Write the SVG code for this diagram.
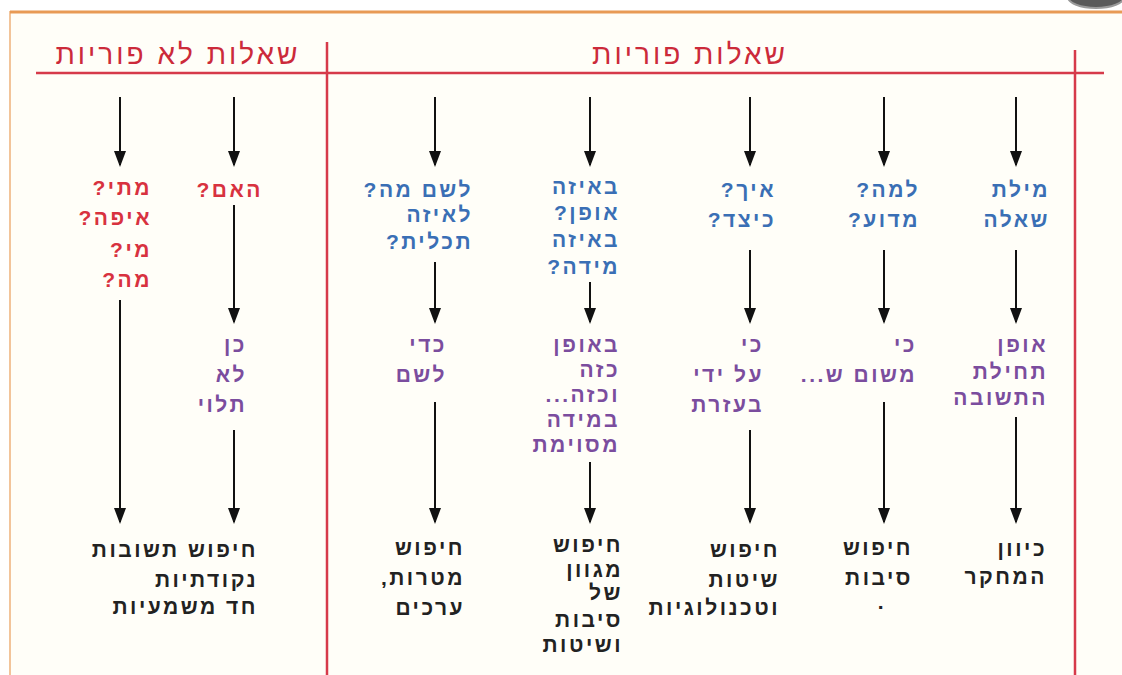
<svg xmlns="http://www.w3.org/2000/svg" width="1122" height="675" viewBox="0 0 1122 675">
<style>
text{font-family:"Liberation Sans","DejaVu Sans",sans-serif;font-size:21px;font-weight:bold;direction:rtl;text-anchor:start;letter-spacing:2.5px}
.h{font-size:28px;font-weight:normal;fill:#cc2a3a;text-anchor:middle;letter-spacing:3px}
.b{fill:#3a6fb5}
.p{fill:#7b4d9e}
.k{fill:#222}
.r{fill:#d8323f}
.red{stroke:#d63a4a;stroke-width:2.5;fill:none}
.a{stroke:#111;stroke-width:2;fill:none;marker-end:url(#ah)}
</style>
<defs>
<marker id="ah" viewBox="0 0 16 12" refX="14" refY="6" markerWidth="16" markerHeight="12" markerUnits="userSpaceOnUse" orient="auto">
<path d="M0,0 L16,6 L0,12 z" fill="#111"/>
</marker>
</defs>
<rect x="0" y="0" width="1122" height="675" fill="#ffffff"/>
<rect x="10" y="12" width="1130" height="680" fill="#fffef8" stroke="#f2c49a" stroke-width="2"/>
<line x1="10" y1="12" x2="1122" y2="12" stroke="#e89a55" stroke-width="3"/>
<ellipse cx="1096" cy="-3" rx="28" ry="11" fill="#5a5a5a" stroke="#9a9a9a" stroke-width="2"/>
<g id="frame">
<line class="red" x1="36" y1="73" x2="1104" y2="73"/>
<line class="red" x1="327" y1="42" x2="327" y2="675"/>
<line class="red" x1="1075" y1="50" x2="1075" y2="675"/>
</g>
<g id="header-unproductive"><text class="h" x="178" y="64">שאלות לא פוריות</text></g>
<g id="header-productive"><text class="h" x="690" y="64">שאלות פוריות</text></g>
<g id="connectors">
<line class="a" x1="120" y1="97" x2="120" y2="165"/>
<line class="a" x1="120" y1="300" x2="120" y2="522"/>
<line class="a" x1="234" y1="97" x2="234" y2="165"/>
<line class="a" x1="234" y1="205" x2="234" y2="322"/>
<line class="a" x1="234" y1="430" x2="234" y2="522"/>
<line class="a" x1="435" y1="97" x2="435" y2="165"/>
<line class="a" x1="435" y1="262" x2="435" y2="322"/>
<line class="a" x1="435" y1="402" x2="435" y2="522"/>
<line class="a" x1="590" y1="97" x2="590" y2="165"/>
<line class="a" x1="590" y1="282" x2="590" y2="322"/>
<line class="a" x1="590" y1="462" x2="590" y2="522"/>
<line class="a" x1="750" y1="97" x2="750" y2="165"/>
<line class="a" x1="750" y1="250" x2="750" y2="322"/>
<line class="a" x1="750" y1="430" x2="750" y2="522"/>
<line class="a" x1="884" y1="97" x2="884" y2="165"/>
<line class="a" x1="884" y1="250" x2="884" y2="322"/>
<line class="a" x1="884" y1="402" x2="884" y2="522"/>
<line class="a" x1="1016" y1="97" x2="1016" y2="165"/>
<line class="a" x1="1016" y1="250" x2="1016" y2="322"/>
<line class="a" x1="1016" y1="417" x2="1016" y2="522"/>
</g>
<g id="q-word">
<text class="b" x="1050" y="197">מילת</text>
<text class="b" x="1050" y="227">שאלה</text>
</g>
<g id="a-start">
<text class="p" x="1048" y="352">אופן</text>
<text class="p" x="1048" y="379">תחילת</text>
<text class="p" x="1048" y="405">התשובה</text>
</g>
<g id="r-direction">
<text class="k" x="1047" y="556">כיוון</text>
<text class="k" x="1047" y="584">המחקר</text>
</g>
<g id="q-why">
<text class="b" x="920" y="197">למה?</text>
<text class="b" x="920" y="227">מדוע?</text>
</g>
<g id="a-why">
<text class="p" x="917" y="352">כי</text>
<text class="p" x="917" y="382">משום ש...</text>
</g>
<g id="r-why">
<text class="k" x="913" y="555">חיפוש</text>
<text class="k" x="913" y="585">סיבות</text>
<text class="k" x="886" y="609">.</text>
</g>
<g id="q-how">
<text class="b" x="776" y="197">איך?</text>
<text class="b" x="776" y="227">כיצד?</text>
</g>
<g id="a-how">
<text class="p" x="764" y="352">כי</text>
<text class="p" x="764" y="382">על ידי</text>
<text class="p" x="764" y="412">בעזרת</text>
</g>
<g id="r-how">
<text class="k" x="780" y="557">חיפוש</text>
<text class="k" x="780" y="587">שיטות</text>
<text class="k" x="780" y="615">וטכנולוגיות</text>
</g>
<g id="q-extent">
<text class="b" x="620" y="194">באיזה</text>
<text class="b" x="620" y="220">אופן?</text>
<text class="b" x="620" y="247">באיזה</text>
<text class="b" x="620" y="274">מידה?</text>
</g>
<g id="a-extent">
<text class="p" x="620" y="352">באופן</text>
<text class="p" x="620" y="377">כזה</text>
<text class="p" x="620" y="402">וכזה...</text>
<text class="p" x="620" y="427">במידה</text>
<text class="p" x="620" y="452">מסוימת</text>
</g>
<g id="r-extent">
<text class="k" x="623" y="552">חיפוש</text>
<text class="k" x="623" y="577">מגוון</text>
<text class="k" x="623" y="600">של</text>
<text class="k" x="623" y="627">סיבות</text>
<text class="k" x="623" y="652">ושיטות</text>
</g>
<g id="q-purpose">
<text class="b" x="473" y="197">לשם מה?</text>
<text class="b" x="473" y="222">לאיזה</text>
<text class="b" x="473" y="249">תכלית?</text>
</g>
<g id="a-purpose">
<text class="p" x="447" y="352">כדי</text>
<text class="p" x="447" y="382">לשם</text>
</g>
<g id="r-purpose">
<text class="k" x="465" y="555">חיפוש</text>
<text class="k" x="465" y="585">מטרות,</text>
<text class="k" x="465" y="615">ערכים</text>
</g>
<g id="q-whether">
<text class="r" x="263" y="197">האם?</text>
</g>
<g id="a-whether">
<text class="p" x="247" y="352">כן</text>
<text class="p" x="247" y="382">לא</text>
<text class="p" x="247" y="412">תלוי</text>
</g>
<g id="q-closed">
<text class="r" x="152" y="195">מתי?</text>
<text class="r" x="152" y="225">איפה?</text>
<text class="r" x="152" y="257">מי?</text>
<text class="r" x="152" y="287">מה?</text>
</g>
<g id="r-closed">
<text class="k" x="258" y="557">חיפוש תשובות</text>
<text class="k" x="258" y="587">נקודתיות</text>
<text class="k" x="258" y="614">חד משמעיות</text>
</g>
</svg>
